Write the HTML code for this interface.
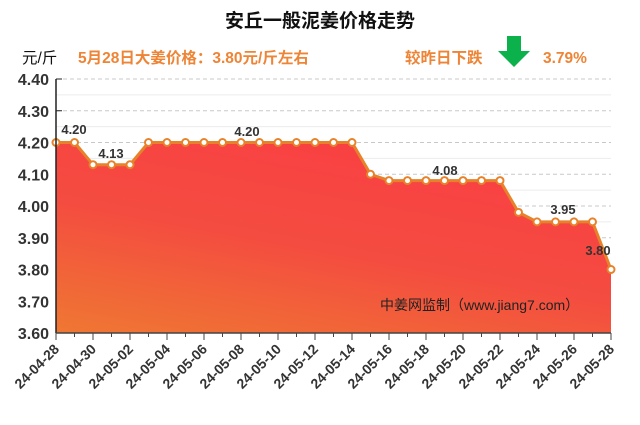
<!DOCTYPE html><html><head><meta charset="utf-8"><style>
body{margin:0;background:#fff;width:640px;height:420px;overflow:hidden}
text{font-family:"Liberation Sans","Noto Sans CJK SC",sans-serif}
</style></head><body>
<svg width="640" height="420" xmlns="http://www.w3.org/2000/svg">
<defs><linearGradient id="g" x1="1" y1="0" x2="0.3" y2="1.3"><stop offset="0" stop-color="#fb3c44"/><stop offset="0.5" stop-color="#f44c40"/><stop offset="1" stop-color="#ee8030"/></linearGradient></defs>
<text x="320" y="27" text-anchor="middle" font-size="19" font-weight="bold" fill="#111">安丘一般泥姜价格走势</text>
<text x="22" y="63" font-size="15.5" fill="#111">元/斤</text>
<text x="78" y="63" font-size="15.5" font-weight="bold" fill="#ee8435">5月28日大姜价格：3.80元/斤左右</text>
<text x="405" y="63" font-size="15.5" font-weight="bold" fill="#ee8435">较昨日下跌</text>
<polygon points="507,36 521,36 521,51 530,51 514,67 498,51 507,51" fill="#0bb14b"/>
<text x="543" y="63" font-size="15.5" font-weight="bold" fill="#ee8435">3.79%</text>
<g id="grid"></g>
<g font-size="16" font-weight="bold" fill="#333" text-anchor="end" id="yl"></g>
<path id="area" fill="url(#g)"/>
<path id="line" fill="none" stroke="#e8822a" stroke-width="3" stroke-linejoin="round"/>
<g id="dots"></g>
<line x1="56" y1="79" x2="56" y2="333" stroke="#222" stroke-width="1.5"/>
<line x1="56" y1="333" x2="611" y2="333" stroke="#444" stroke-width="1.5"/>
<g id="xt"></g>
<g font-size="13" font-weight="bold" fill="#333" text-anchor="middle">
<text x="74" y="134">4.20</text><text x="111" y="158">4.13</text><text x="247" y="136">4.20</text><text x="445" y="175">4.08</text><text x="563" y="214">3.95</text><text x="598" y="255">3.80</text></g>
<text x="380" y="310" font-size="14" fill="#222">中姜网监制（www.jiang7.com）</text>
</svg>
<script>
var ns="http://www.w3.org/2000/svg";function el(p,t,a,tx){var e=document.createElementNS(ns,t);for(var k in a)e.setAttribute(k,a[k]);if(tx)e.textContent=tx;document.getElementById(p).appendChild(e);}
function Y(v){return 333-(v-3.6)*317.5}
for(var i=0;i<=16;i++){var v=3.6+i*0.05,y=Y(v);if(i%2==0){if(i>0)el("grid","line",{x1:56,x2:611,y1:y,y2:y,stroke:"#c8c8c8","stroke-dasharray":"4,3"});el("yl","text",{x:49,y:y+6},v.toFixed(2));el("grid","line",{x1:56,x2:62,y1:y,y2:y,stroke:"#222"});}else el("grid","line",{x1:56,x2:611,y1:y,y2:y,stroke:"#ececec"});}
var d=[4.2,4.2,4.13,4.13,4.13,4.2,4.2,4.2,4.2,4.2,4.2,4.2,4.2,4.2,4.2,4.2,4.2,4.1,4.08,4.08,4.08,4.08,4.08,4.08,4.08,3.98,3.95,3.95,3.95,3.95,3.8];
var p="";d.forEach(function(v,i){p+=(i?"L":"M")+(56+i*18.5)+","+Y(v)});
document.getElementById("line").setAttribute("d",p);document.getElementById("area").setAttribute("d",p+"L611,333L56,333Z");
d.forEach(function(v,i){el("dots","circle",{cx:56+i*18.5,cy:Y(v),r:3.5,fill:"#fff",stroke:"#e8822a","stroke-width":2});});
var m=["04-28","04-30","05-02","05-04","05-06","05-08","05-10","05-12","05-14","05-16","05-18","05-20","05-22","05-24","05-26","05-28"];
for(var i=0;i<=30;i++){var x=56+i*18.5;el("xt","line",{x1:x,x2:x,y1:333,y2:i%2?337:340,stroke:"#444"});if(i%2==0){el("xt","text",{x:x+4,y:350,"font-size":14,"font-weight":"bold",fill:"#333","text-anchor":"end",transform:"rotate(-45 "+(x+4)+" 350)"},"24-"+m[i/2]);}}
</script>
</body></html>
